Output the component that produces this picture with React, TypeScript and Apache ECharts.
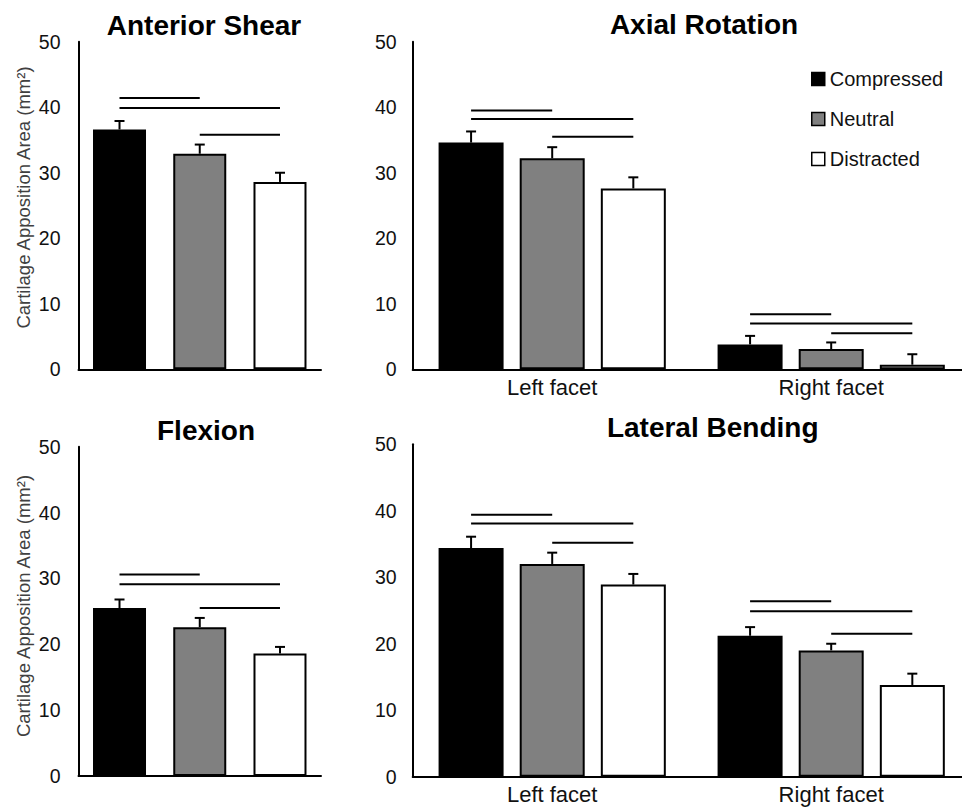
import React, { useEffect, useRef } from "react";
import * as echarts from "echarts";

// ---------- data ----------
const conditions = ["Compressed", "Neutral", "Distracted"];
const facets = ["Left facet", "Right facet"];
const singleCategory = ["All facets"];
const yMin = 0;
const yMax = 50;
const yInterval = 10;

const anteriorShearMean = [36.6, 32.9, 28.6];
const anteriorShearSE = [1.3, 1.4, 1.4];

const flexionMean = [25.5, 22.6, 18.6];
const flexionSE = [1.3, 1.4, 1.0];

// per condition, values for [Left facet, Right facet]
const axialCompressed = [34.6, 3.8];
const axialNeutral = [32.2, 3.1];
const axialDistracted = [27.6, 0.7];
const axialCompressedSE = [1.7, 1.3];
const axialNeutralSE = [1.7, 1.0];
const axialDistractedSE = [1.7, 1.6];

const lateralCompressed = [34.4, 21.2];
const lateralNeutral = [32.0, 19.0];
const lateralDistracted = [28.9, 13.8];
const lateralCompressedSE = [1.7, 1.3];
const lateralNeutralSE = [1.7, 1.0];
const lateralDistractedSE = [1.6, 1.7];

// significance bars: [category index, from condition, to condition, height]
const anteriorShearSig = [
  [0, 0, 1, 41.4],
  [0, 0, 2, 39.9],
  [0, 1, 2, 35.8],
];
const flexionSig = [
  [0, 0, 1, 30.6],
  [0, 0, 2, 29.1],
  [0, 1, 2, 25.5],
];
const axialSig = [
  [0, 0, 1, 39.5],
  [0, 0, 2, 38.2],
  [0, 1, 2, 35.5],
  [1, 0, 1, 8.4],
  [1, 0, 2, 7.0],
  [1, 1, 2, 5.5],
];
const lateralSig = [
  [0, 0, 1, 39.4],
  [0, 0, 2, 38.1],
  [0, 1, 2, 35.2],
  [1, 0, 1, 26.4],
  [1, 0, 2, 24.9],
  [1, 1, 2, 21.5],
];

const titles = ["Anterior Shear", "Axial Rotation", "Flexion", "Lateral Bending"];
const yAxisName = "Cartilage Apposition Area (mm\u00B2)";

// ---------- styling / layout ----------
const FONT = "'Liberation Sans', Arial, Helvetica, sans-serif";
const fills = ["#000000", "#808080", "#ffffff"];

type Panel = {
  grid: { left: number; top: number; width: number; height: number };
  cats: string[];
  showCats: boolean;
  means: number[][];
  errs: number[][];
  sig: number[][];
  barWidth: number;
  gapRatio: number;
  yName: { x: number; y: number } | null;
  yLabelMargin: number;
  title: { x: number; y: number };
};

const panels: Panel[] = [
  {
    grid: { left: 78.5, top: 41.7, width: 242.5, height: 327.6 },
    cats: singleCategory,
    showCats: false,
    means: conditions.map((_, i) => [anteriorShearMean[i]]),
    errs: conditions.map((_, i) => [anteriorShearSE[i]]),
    sig: anteriorShearSig,
    barWidth: 53,
    gapRatio: 0.514,
    yName: { x: 23, y: 197.5 },
    yLabelMargin: 18,
    title: { x: 204, y: 25 },
  },
  {
    grid: { left: 412.7, top: 41.7, width: 558, height: 327.6 },
    cats: facets,
    showCats: true,
    means: [axialCompressed, axialNeutral, axialDistracted],
    errs: [axialCompressedSE, axialNeutralSE, axialDistractedSE],
    sig: axialSig,
    barWidth: 65,
    gapRatio: 0.248,
    yName: null,
    yLabelMargin: 16,
    title: { x: 704, y: 24.5 },
  },
  {
    grid: { left: 78.5, top: 446.7, width: 242.5, height: 329.3 },
    cats: singleCategory,
    showCats: false,
    means: conditions.map((_, i) => [flexionMean[i]]),
    errs: conditions.map((_, i) => [flexionSE[i]]),
    sig: flexionSig,
    barWidth: 53,
    gapRatio: 0.514,
    yName: { x: 23, y: 606 },
    yLabelMargin: 18,
    title: { x: 206, y: 430.5 },
  },
  {
    grid: { left: 412.7, top: 444.3, width: 558, height: 332.4 },
    cats: facets,
    showCats: true,
    means: [lateralCompressed, lateralNeutral, lateralDistracted],
    errs: [lateralCompressedSE, lateralNeutralSE, lateralDistractedSE],
    sig: lateralSig,
    barWidth: 65,
    gapRatio: 0.248,
    yName: null,
    yLabelMargin: 16,
    title: { x: 712.7, y: 427 },
  },
];

function buildOption() {
  const grids = panels.map((p) => ({ ...p.grid, containLabel: false }));
  const xAxes = panels.map((p, i) => ({
    type: "category",
    gridIndex: i,
    data: p.cats,
    axisLine: { show: true, lineStyle: { color: "#000", width: 2 } },
    axisTick: { show: false },
    axisLabel: {
      show: p.showCats,
      fontSize: 22,
      fontFamily: FONT,
      color: "#111",
      margin: 7,
    },
    splitLine: { show: false },
  }));
  const yAxes = panels.map((p, i) => ({
    type: "value",
    gridIndex: i,
    min: yMin,
    max: yMax,
    interval: yInterval,
    axisLine: { show: true, lineStyle: { color: "#000", width: 2 } },
    axisTick: { show: false },
    splitLine: { show: false },
    axisLabel: {
      fontSize: 19.5,
      fontFamily: FONT,
      color: "#111",
      margin: p.yLabelMargin,
    },
  }));

  const series: any[] = [];
  panels.forEach((p, pi) => {
    const step = p.barWidth * (1 + p.gapRatio);
    conditions.forEach((name, ci) => {
      series.push({
        name,
        type: "bar",
        xAxisIndex: pi,
        yAxisIndex: pi,
        data: p.means[ci],
        barWidth: p.barWidth,
        barGap: `${(p.gapRatio * 100).toFixed(1)}%`,
        itemStyle: { color: fills[ci], borderColor: "#000", borderWidth: 2 },
        z: 2,
      });
    });
    const errData: number[][] = [];
    conditions.forEach((_, ci) => {
      p.cats.forEach((_c, k) => {
        errData.push([k, ci, p.means[ci][k], p.errs[ci][k]]);
      });
    });
    series.push({
      type: "custom",
      xAxisIndex: pi,
      yAxisIndex: pi,
      z: 5,
      data: errData,
      encode: { x: 0, y: 2 },
      renderItem: (_params: any, api: any) => {
        const cat = api.value(0);
        const ci = api.value(1);
        const m = api.value(2);
        const e = api.value(3);
        const p0 = api.coord([cat, m]);
        const p1 = api.coord([cat, m + e]);
        const x = p0[0] + (ci - 1) * step;
        return {
          type: "group",
          children: [
            {
              type: "line",
              shape: { x1: x, y1: p0[1], x2: x, y2: p1[1] },
              style: { stroke: "#000", lineWidth: 2 },
            },
            {
              type: "line",
              shape: { x1: x - 5, y1: p1[1], x2: x + 5, y2: p1[1] },
              style: { stroke: "#000", lineWidth: 2 },
            },
          ],
        };
      },
    });
    series.push({
      type: "custom",
      xAxisIndex: pi,
      yAxisIndex: pi,
      z: 5,
      data: p.sig,
      encode: { x: 0, y: 3 },
      renderItem: (_params: any, api: any) => {
        const cat = api.value(0);
        const a = api.value(1);
        const b = api.value(2);
        const h = api.value(3);
        const pt = api.coord([cat, h]);
        return {
          type: "line",
          shape: {
            x1: pt[0] + (a - 1) * step,
            y1: pt[1],
            x2: pt[0] + (b - 1) * step,
            y2: pt[1],
          },
          style: { stroke: "#000", lineWidth: 2 },
        };
      },
    });
  });

  const graphics: any[] = panels.map((p, i) => ({
    type: "text",
    x: p.title.x,
    y: p.title.y,
    style: {
      text: titles[i],
      font: `bold 28px ${FONT}`,
      fill: "#000",
      textAlign: "center",
      textVerticalAlign: "middle",
    },
  }));
  panels.forEach((p) => {
    if (!p.yName) return;
    graphics.push({
      type: "text",
      x: p.yName.x,
      y: p.yName.y,
      rotation: Math.PI / 2,
      style: {
        text: yAxisName,
        font: `18.5px ${FONT}`,
        fill: "#404040",
        textAlign: "center",
        textVerticalAlign: "middle",
      },
    });
  });

  return {
    animation: false,
    backgroundColor: "#ffffff",
    grid: grids,
    xAxis: xAxes,
    yAxis: yAxes,
    legend: {
      orient: "vertical",
      left: 811,
      top: 69,
      padding: 0,
      itemWidth: 13,
      itemHeight: 13,
      itemGap: 20,
      selectedMode: false,
      icon: "rect",
      data: conditions,
      textStyle: { fontSize: 20, fontFamily: FONT, color: "#111" },
      itemStyle: { borderColor: "#000", borderWidth: 1.5 },
    },
    graphic: graphics,
    series,
  };
}

export default function App() {
  const ref = useRef<HTMLDivElement>(null);
  useEffect(() => {
    document.body.style.margin = "0";
    if (!ref.current) return;
    const chart = echarts.init(ref.current, undefined, { renderer: "svg" });
    chart.setOption(buildOption() as any);
    return () => chart.dispose();
  }, []);
  return (
    <div style={{ width: 962, height: 808, overflow: "hidden" }}>
      <div ref={ref} style={{ width: 975, height: 808 }} />
    </div>
  );
}
